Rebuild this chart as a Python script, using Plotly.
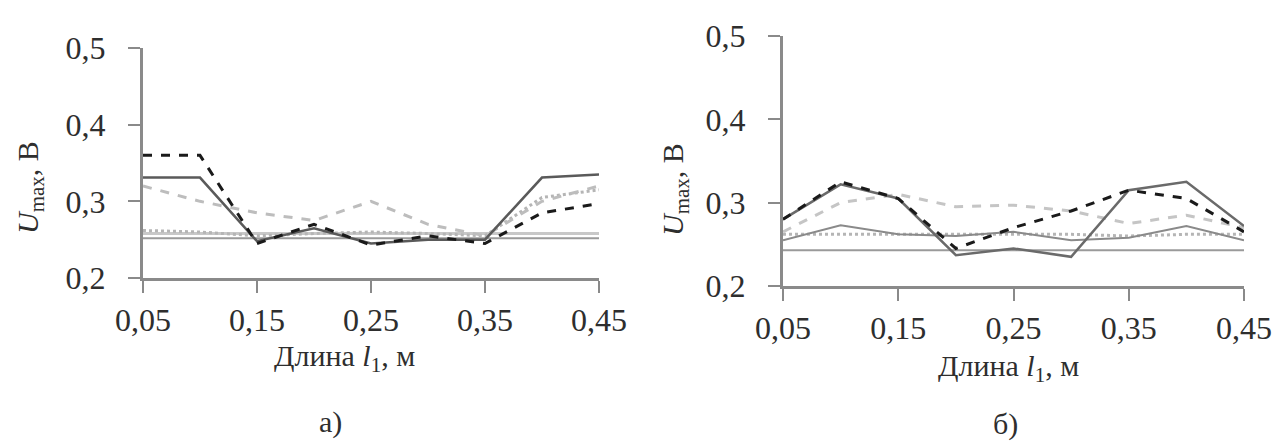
import plotly.graph_objects as go

W, H = 1279, 445

x_vals = [0.05, 0.10, 0.15, 0.20, 0.25, 0.30, 0.35, 0.40, 0.45]
x_ticks = [0.05, 0.15, 0.25, 0.35, 0.45]
x_ticktext = ["0,05", "0,15", "0,25", "0,35", "0,45"]
y_ticks = [0.2, 0.3, 0.4, 0.5]
y_ticktext = ["0,2", "0,3", "0,4", "0,5"]

# panel а)
a_black_dash = [0.360, 0.360, 0.245, 0.270, 0.243, 0.255, 0.245, 0.285, 0.297]
a_dark_solid = [0.331, 0.331, 0.248, 0.265, 0.245, 0.250, 0.250, 0.331, 0.335]
a_light_dash = [0.320, 0.300, 0.285, 0.275, 0.300, 0.270, 0.255, 0.300, 0.320]
a_hatched = [0.262, 0.260, 0.255, 0.258, 0.260, 0.258, 0.255, 0.305, 0.315]
a_light_flat = [0.258, 0.258, 0.258, 0.258, 0.258, 0.258, 0.258, 0.258, 0.258]
a_gray_flat = [0.252, 0.252, 0.252, 0.252, 0.252, 0.252, 0.252, 0.252, 0.252]

# panel б)
b_black_dash = [0.280, 0.325, 0.305, 0.245, 0.270, 0.290, 0.315, 0.305, 0.265]
b_gray_solid = [0.280, 0.322, 0.305, 0.237, 0.245, 0.235, 0.315, 0.325, 0.272]
b_light_dash = [0.265, 0.300, 0.310, 0.295, 0.297, 0.290, 0.275, 0.285, 0.270]
b_mid_thin = [0.255, 0.273, 0.262, 0.260, 0.265, 0.255, 0.258, 0.272, 0.255]
b_hatched = [0.262, 0.262, 0.262, 0.262, 0.262, 0.262, 0.260, 0.262, 0.262]
b_flat = [0.243, 0.243, 0.243, 0.243, 0.243, 0.243, 0.243, 0.243, 0.243]

x_title = "Длина <i>l</i><sub>1</sub>, м"
y_title = "<i>U</i><sub>max</sub>, В"
captions = ["а)", "б)"]

FONT = "Liberation Serif"
TXT = "#2e2e2e"

fig = go.Figure()

def add(xa, ya, ys, color, width, dash):
    fig.add_trace(go.Scatter(x=x_vals, y=ys, xaxis=xa, yaxis=ya, mode="lines",
                             line=dict(color=color, width=width, dash=dash),
                             showlegend=False, hoverinfo="skip"))

# panel а) traces
add("x", "y", a_gray_flat, "#9a9a9a", 2, "solid")
add("x", "y", a_light_flat, "#c8c8c8", 3, "solid")
add("x", "y", a_hatched, "#b5b5b5", 3, "dot")
add("x", "y", a_light_dash, "#bdbdbd", 3, "dash")
add("x", "y", a_dark_solid, "#5a5a5a", 2.5, "solid")
add("x", "y", a_black_dash, "#1a1a1a", 3, "dash")

# panel б) traces
add("x2", "y2", b_flat, "#9a9a9a", 2, "solid")
add("x2", "y2", b_hatched, "#b5b5b5", 3, "dot")
add("x2", "y2", b_mid_thin, "#8a8a8a", 2, "solid")
add("x2", "y2", b_light_dash, "#c5c5c5", 3, "dash")
add("x2", "y2", b_gray_solid, "#6a6a6a", 2.5, "solid")
add("x2", "y2", b_black_dash, "#1a1a1a", 3, "dash")

def px_x(p):
    return p / W

def px_y(p):
    return 1 - p / H

axis_common = dict(showline=True, linecolor="#8a8a8a", linewidth=3,
                   ticks="outside", ticklen=12, tickwidth=2, tickcolor="#8a8a8a",
                   showgrid=False, zeroline=False, fixedrange=True, automargin=False,
                   tickfont=dict(family=FONT, size=32, color=TXT))

fig.update_layout(
    width=W, height=H, autosize=False,
    margin=dict(l=0, r=0, t=0, b=0, pad=0, autoexpand=False),
    paper_bgcolor="white", plot_bgcolor="white",
    xaxis=dict(domain=[px_x(143), px_x(599)], range=[0.05, 0.45],
               tickvals=x_ticks, ticktext=x_ticktext, anchor="y", **axis_common),
    yaxis=dict(domain=[px_y(278), px_y(48)], range=[0.2, 0.5],
               tickvals=y_ticks, ticktext=y_ticktext, anchor="x",
               ticklabelstandoff=16, **axis_common),
    xaxis2=dict(domain=[px_x(783), px_x(1244)], range=[0.05, 0.45],
                tickvals=x_ticks, ticktext=x_ticktext, anchor="y2", **axis_common),
    yaxis2=dict(domain=[px_y(286), px_y(36)], range=[0.2, 0.5],
                tickvals=y_ticks, ticktext=y_ticktext, anchor="x2",
                ticklabelstandoff=16, **axis_common),
)

ann_font = dict(family=FONT, size=30, color=TXT)
anns = [
    dict(x=px_x(345), y=px_y(358), text=x_title),
    dict(x=px_x(1008), y=px_y(368), text=x_title),
    dict(x=px_x(30), y=px_y(188), text=y_title, textangle=-90),
    dict(x=px_x(675), y=px_y(190), text=y_title, textangle=-90),
    dict(x=px_x(330), y=px_y(422), text=captions[0]),
    dict(x=px_x(1005), y=px_y(424), text=captions[1]),
]
for a in anns:
    fig.add_annotation(xref="paper", yref="paper", showarrow=False,
                       xanchor="center", yanchor="middle", font=ann_font, **a)

fig.write_html("out.html")
